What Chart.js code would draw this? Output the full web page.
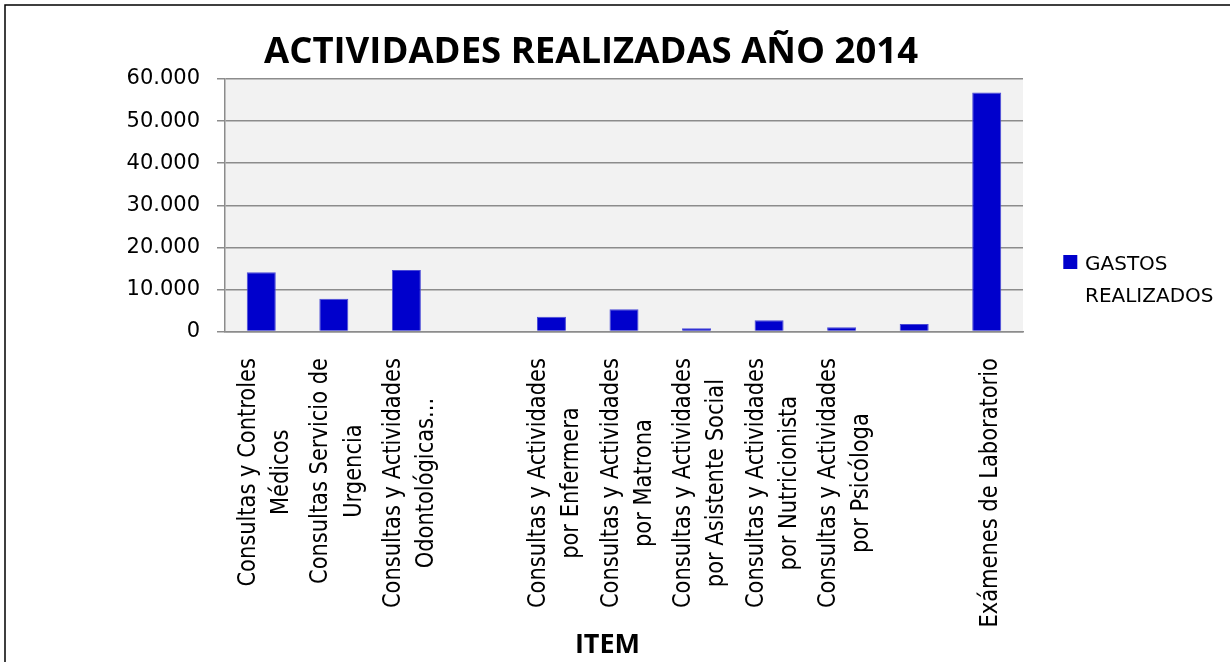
<!DOCTYPE html>
<html><head><meta charset="utf-8">
<script src="https://cdn.jsdelivr.net/npm/chart.js@4.4.1/dist/chart.umd.min.js"></script>
<style>html,body{margin:0;padding:0;background:#fff}#wrap{width:1230px;height:662px;position:relative}</style>
</head><body><div id="wrap"><canvas id="c"></canvas></div>
<script>
const chartTitle = 'ACTIVIDADES REALIZADAS AÑO 2014';
const axisTitle = 'ITEM';
const seriesName = 'GASTOS REALIZADOS';
const categories = [
  ['Consultas y Controles', 'Médicos'],
  ['Consultas Servicio de', 'Urgencia'],
  ['Consultas y Actividades', 'Odontológicas...'],
  '',
  ['Consultas y Actividades', 'por Enfermera'],
  ['Consultas y Actividades', 'por Matrona'],
  ['Consultas y Actividades', 'por Asistente Social'],
  ['Consultas y Actividades', 'por Nutricionista'],
  ['Consultas y Actividades', 'por Psicóloga'],
  '',
  ['Exámenes de Laboratorio']
];
const gastos = [14100, 7800, 14600, null, 3500, 5300, 800, 2700, 1000, 1800, 56800];
const yTickLabels = ['0', '10.000', '20.000', '30.000', '40.000', '50.000', '60.000'];
const yMin = 0, yMax = 60000, yStep = 10000;

Chart.defaults.font.family = '"DejaVu Sans"';
Chart.defaults.color = '#000';

const decor = {
  id: 'decor',
  beforeDraw(chart) {
    const {ctx, chartArea: a} = chart;
    ctx.save();
    ctx.fillStyle = '#fff';
    ctx.fillRect(0, 0, chart.width, chart.height);
    ctx.fillStyle = '#f2f2f2';
    ctx.fillRect(a.left, a.top, a.right - a.left, a.bottom - a.top);
    ctx.restore();
  },
  afterDraw(chart) {
    const {ctx, chartArea: a} = chart;
    const xs = chart.scales.x;
    ctx.save();
    // outer chart border
    ctx.strokeStyle = '#000';
    ctx.lineWidth = 1.5;
    ctx.beginPath();
    ctx.moveTo(5, chart.height + 5);
    ctx.lineTo(5, 5);
    ctx.lineTo(chart.width + 5, 5);
    ctx.stroke();
    // title
    ctx.fillStyle = '#000';
    ctx.font = 'bold 36.5px "Open Sans"';
    ctx.textAlign = 'center';
    ctx.textBaseline = 'alphabetic';
    ctx.fillText(chartTitle, (a.left + a.right) / 2 - 33, a.top - 16.3);
    // rotated category labels
    ctx.font = '21px "DejaVu Sans"';
    const sx = 1.2, lineGap = 33.3, capH = 18.3, top = a.bottom + 26.6;
    categories.forEach((lab, i) => {
      const lines = Array.isArray(lab) ? lab : (lab ? [lab] : []);
      if (!lines.length) return;
      const cx = xs.getPixelForValue(i);
      const W = Math.max(...lines.map(l => ctx.measureText(l).width));
      const cy = top + W / 2;
      lines.forEach((l, j) => {
        const bx = cx + (j - (lines.length - 1) / 2) * lineGap + capH / 2 + 1;
        ctx.save();
        ctx.translate(bx, cy);
        ctx.scale(sx, 1);
        ctx.rotate(-Math.PI / 2);
        ctx.textAlign = 'center';
        ctx.fillText(l, 0, 0);
        ctx.restore();
      });
    });
    // axis title
    ctx.font = 'bold 27px "Open Sans"';
    ctx.textAlign = 'center';
    ctx.fillText(axisTitle, (a.left + a.right) / 2 - 16.5, chart.height - 9.3);
    // legend
    const ds = chart.data.datasets[0];
    ctx.fillStyle = ds.backgroundColor;
    ctx.fillRect(a.right + 40.3, a.top + 176, 14, 14);
    ctx.fillStyle = '#000';
    ctx.font = '20px "DejaVu Sans"';
    ctx.textAlign = 'left';
    ds.label.split(' ').forEach((w, k) => {
      ctx.fillText(w, a.right + 62, a.top + 190.5 + k * 32.2);
    });
    ctx.restore();
  }
};

new Chart(document.getElementById('c'), {
  type: 'bar',
  data: {
    labels: categories,
    datasets: [{
      label: seriesName,
      data: gastos,
      backgroundColor: '#0000cc',
      borderColor: '#4a4ad6',
      borderWidth: 1,
      categoryPercentage: 1,
      barPercentage: 0.4
    }]
  },
  options: {
    responsive: true,
    maintainAspectRatio: false,
    animation: false,
    layout: {padding: {top: 79, right: 207, left: 0, bottom: 0}},
    plugins: {legend: {display: false}, title: {display: false}, tooltip: {enabled: false}},
    scales: {
      x: {
        grid: {display: false},
        border: {display: true, color: '#8c8c8c', width: 1.5},
        ticks: {display: false},
        afterFit(s) { s.height = 330.5; }
      },
      y: {
        min: yMin, max: yMax,
        ticks: {
          stepSize: yStep, padding: 17, color: '#000',
          font: {size: 21, family: '"DejaVu Sans"'},
          callback: (v) => yTickLabels[Math.round(v / yStep)]
        },
        grid: {color: '#8c8c8c', lineWidth: 1.5, tickLength: 8},
        border: {display: true, color: '#8c8c8c', width: 1.5},
        afterFit(s) { s.width = 225; }
      }
    }
  },
  plugins: [decor]
});
</script>
</body></html>
